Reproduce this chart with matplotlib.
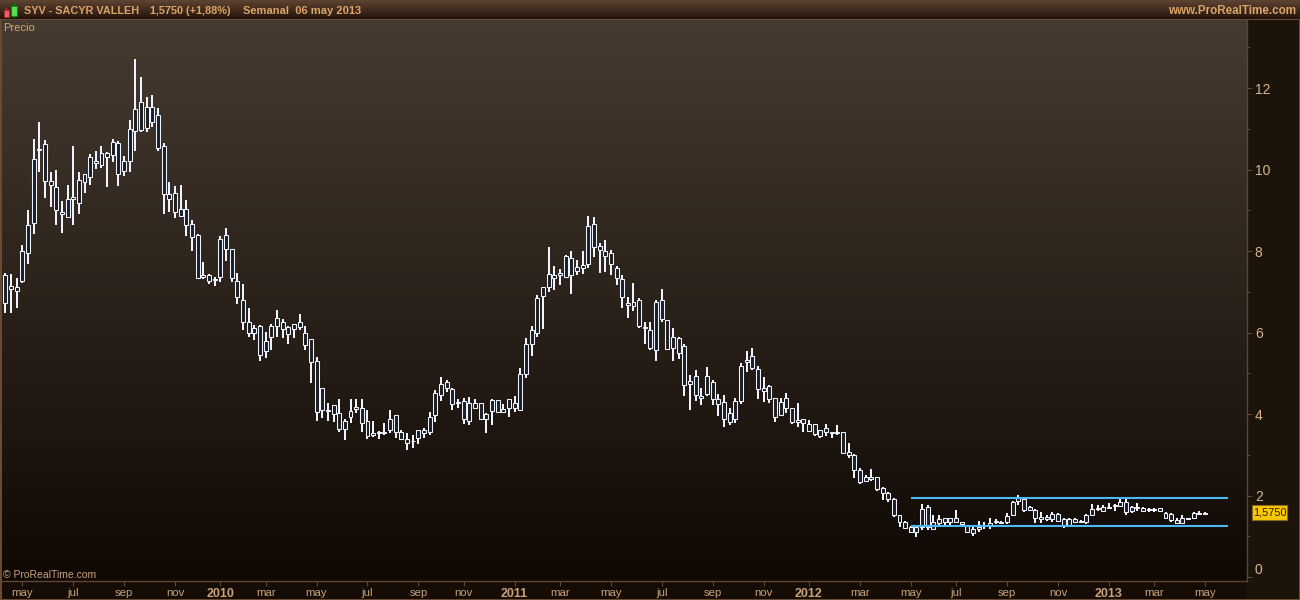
import numpy as np
import matplotlib
matplotlib.use('Agg')
import matplotlib.pyplot as plt
from matplotlib.patches import Rectangle

# weekly candles, SYV, one value per bar
high = [7.45,7.44,7.33,8.14,9.01,10.75,11.17,10.72,9.94,9.98,9.23,9.62,10.58,9.94,9.88,10.38,10.45,10.57,10.44,10.75,
        10.70,10.33,11.22,12.71,12.26,11.78,11.82,11.50,10.64,9.69,9.60,9.62,9.25,8.76,8.41,7.73,7.43,7.37,8.36,8.56,
        8.04,7.45,7.19,6.59,6.18,6.18,6.01,6.22,6.55,6.32,6.15,6.22,6.45,6.15,5.83,5.40,4.63,4.27,4.21,4.37,
        3.87,4.37,4.37,4.37,4.11,3.82,3.58,3.77,4.09,3.97,3.62,3.53,3.48,3.60,3.65,4.05,4.58,4.91,4.83,4.65,
        4.36,4.39,4.41,4.36,4.26,4.02,4.36,4.34,4.24,4.36,4.43,5.14,5.86,6.15,6.91,7.11,8.10,7.63,7.55,7.90,
        8.00,7.78,8.00,8.86,8.84,8.20,8.27,8.02,7.63,7.40,6.86,7.21,6.84,6.27,6.26,6.81,7.07,6.30,6.10,5.88,
        5.71,4.95,5.07,4.63,5.15,4.83,4.48,4.46,4.16,4.39,5.24,5.54,5.61,5.17,4.90,4.70,4.39,4.39,4.51,4.16,
        4.26,3.89,3.85,3.75,3.62,3.75,3.57,3.73,3.57,3.28,3.01,2.67,2.50,2.64,2.45,2.20,2.09,1.95,1.52,1.38,
        1.26,1.28,1.78,1.77,1.52,1.52,1.46,1.46,1.64,1.36,1.28,1.24,1.37,1.36,1.46,1.42,1.38,1.56,1.87,2.01,
        1.93,1.74,1.67,1.59,1.52,1.59,1.56,1.44,1.46,1.46,1.40,1.54,1.78,1.77,1.77,1.81,1.78,1.91,1.91,1.75,
        1.81,1.71,1.70,1.70,1.70,1.59,1.56,1.44,1.52,1.46,1.59,1.62,1.60]
body_top = [7.40,7.15,7.11,7.99,8.63,10.27,10.50,10.62,9.73,9.56,8.95,9.27,9.33,9.75,9.88,10.30,10.22,10.41,10.41,10.67,
            10.64,10.20,10.99,11.48,11.65,11.53,11.53,11.35,10.57,9.39,9.42,9.02,9.02,8.66,8.39,7.40,7.40,7.32,8.29,8.39,
            8.04,7.26,6.79,6.27,6.10,6.15,5.80,6.15,6.35,6.27,6.13,6.20,6.27,6.00,5.83,5.29,4.63,4.11,4.21,4.02,
            3.84,4.07,4.18,4.16,3.82,3.53,3.57,3.57,3.87,3.97,3.57,3.39,3.35,3.60,3.60,3.92,4.51,4.73,4.78,4.61,
            4.29,4.31,4.26,4.26,4.26,3.99,4.34,4.34,4.13,4.36,4.26,4.97,5.71,6.05,6.84,7.11,7.43,7.40,7.45,7.88,
            7.82,7.60,7.65,8.61,8.66,8.12,7.99,7.94,7.58,7.31,6.72,6.74,6.79,6.14,6.05,6.74,6.81,6.30,5.88,5.86,
            5.66,4.80,4.93,4.43,4.93,4.78,4.38,4.29,4.02,4.31,5.17,5.32,5.42,5.10,4.63,4.68,4.39,4.29,4.39,4.14,
            3.85,3.87,3.75,3.75,3.62,3.65,3.57,3.57,3.57,3.08,2.99,2.62,2.45,2.45,2.45,2.18,2.05,1.91,1.51,1.34,
            1.22,1.22,1.66,1.71,1.36,1.42,1.44,1.44,1.46,1.36,1.24,1.17,1.22,1.26,1.33,1.38,1.36,1.50,1.85,1.93,
            1.91,1.71,1.65,1.48,1.48,1.55,1.54,1.42,1.42,1.42,1.38,1.52,1.66,1.70,1.73,1.73,1.77,1.85,1.85,1.71,
            1.71,1.69,1.67,1.68,1.69,1.56,1.54,1.40,1.46,1.45,1.56,1.58,1.57]
body_bot = [6.72,7.08,7.03,7.27,7.94,8.68,10.47,9.71,9.61,9.00,8.92,8.83,9.27,9.17,9.70,9.81,10.17,10.12,10.30,10.35,
            9.88,9.96,10.20,10.94,10.98,11.01,11.16,10.54,9.39,9.27,8.97,8.87,8.63,8.34,7.35,7.36,7.27,7.28,7.37,8.04,
            7.33,6.86,6.27,6.00,6.00,5.44,5.54,5.88,6.17,6.08,5.97,6.08,6.13,5.70,5.27,4.04,4.11,4.07,3.99,3.64,
            3.64,3.92,4.13,3.77,3.47,3.49,3.53,3.54,3.62,3.55,3.39,3.30,3.33,3.40,3.53,3.55,3.97,4.46,4.65,4.24,
            4.26,3.87,3.82,4.16,3.89,3.89,4.07,4.04,4.04,4.14,4.16,4.11,4.97,5.71,6.00,6.90,7.11,7.35,7.42,7.37,
            7.42,7.52,7.58,7.69,8.09,8.02,7.87,7.67,7.33,6.86,6.68,6.64,6.17,6.10,5.63,5.56,6.32,5.60,5.61,5.49,
            4.70,4.73,4.47,4.39,4.48,4.36,4.24,3.87,3.80,3.89,4.31,5.27,5.14,4.61,4.56,4.36,3.92,3.98,4.16,3.81,
            3.81,3.77,3.59,3.50,3.47,3.55,3.54,3.54,3.05,3.00,2.62,2.34,2.36,2.40,2.17,2.05,1.91,1.51,1.34,1.21,
            1.11,1.10,1.22,1.22,1.19,1.33,1.36,1.36,1.36,1.29,1.10,1.07,1.19,1.24,1.24,1.34,1.33,1.34,1.52,1.87,
            1.64,1.65,1.44,1.43,1.42,1.42,1.38,1.28,1.28,1.36,1.36,1.34,1.52,1.67,1.63,1.69,1.74,1.75,1.60,1.62,
            1.69,1.63,1.64,1.64,1.61,1.46,1.40,1.33,1.33,1.43,1.44,1.55,1.55]
low = [6.47,6.49,6.61,7.22,7.69,8.43,9.95,9.31,9.09,8.65,8.45,8.83,8.65,8.92,9.43,9.63,10.02,10.05,9.56,10.19,
       9.60,9.83,9.95,10.46,10.93,10.93,11.04,10.46,8.92,8.97,8.82,8.84,8.38,8.01,7.32,7.32,7.20,7.13,7.25,7.76,
       7.25,6.71,6.05,5.90,5.82,5.31,5.37,5.57,5.90,5.87,5.72,5.87,6.06,5.57,4.77,3.84,3.91,3.84,3.81,3.57,
       3.37,3.79,4.03,3.57,3.39,3.44,3.39,3.49,3.54,3.42,3.37,3.12,3.17,3.27,3.41,3.49,3.81,4.33,4.55,4.11,
       4.16,3.76,3.74,4.13,3.89,3.54,3.74,4.02,4.04,3.93,4.06,4.09,4.89,5.43,5.90,6.09,7.00,7.04,7.17,7.37,
       6.95,7.40,7.44,7.59,7.86,7.47,7.49,7.40,7.17,6.61,6.36,6.54,6.12,5.73,5.58,5.31,6.27,5.58,5.31,5.36,
       4.45,4.11,4.33,4.23,4.43,4.23,3.96,3.67,3.74,3.79,4.24,5.02,5.09,4.38,4.30,4.28,3.81,3.94,4.03,3.76,
       3.67,3.57,3.57,3.47,3.42,3.46,3.42,3.48,3.05,2.93,2.44,2.29,2.34,2.36,2.12,1.89,1.85,1.48,1.22,1.18,
       1.08,0.99,1.15,1.15,1.15,1.24,1.28,1.24,1.34,1.25,1.07,1.01,1.10,1.19,1.19,1.30,1.31,1.31,1.51,1.77,
       1.60,1.63,1.33,1.33,1.38,1.36,1.36,1.21,1.24,1.33,1.36,1.31,1.51,1.62,1.61,1.67,1.63,1.71,1.52,1.58,
       1.63,1.61,1.60,1.60,1.60,1.42,1.36,1.31,1.29,1.42,1.42,1.51,1.53]

month_pos = [3,12,21,30,46,55,64,73,81,98,107,116,125,134,151,160,168,177,186,203,212]
month_lab = ['may','jul','sep','nov','mar','may','jul','sep','nov','mar','may','jul','sep','nov','mar','may','jul','sep','nov','mar','may']
year_pos = [38,90,142,195]
year_lab = ['2010','2011','2012','2013']
price_ticks = [0,2,4,6,8,10,12]
minor_ticks = [1,3,5,7,9,11,13]
channel_top = 1.94
channel_bot = 1.25
channel_start = 160
channel_end = 216

W, H = 1300, 600
TXT = '#dba468'
LINE = '#5f4630'
EDGE = '#6a4a30'
CANDLE = '#eef3ff'
plt.rcParams['font.family'] = ['Liberation Sans', 'DejaVu Sans']

fig = plt.figure(figsize=(W/100, H/100), dpi=100, facecolor='#1c130b')

def px_axes(x0, y0, x1, y1, **kw):
    return fig.add_axes([x0/W, 1-y1/H, (x1-x0)/W, (y1-y0)/H], **kw)

def px_rect(x0, y0, x1, y1, **kw):
    r = Rectangle((x0/W, 1-y1/H), (x1-x0)/W, (y1-y0)/H, transform=fig.transFigure, **kw)
    fig.add_artist(r)
    return r

def vgrad(ax, top, bot):
    c = np.linspace(matplotlib.colors.to_rgb(top), matplotlib.colors.to_rgb(bot), 256)[:, None, :]
    ax.imshow(c, aspect='auto', extent=(0, 1, 0, 1), transform=ax.transAxes, zorder=0)

# bottom strip under the time axis, has to stay behind the tick labels
px_rect(0, 581, 1247, 600, fc='#150c05', ec='none', zorder=-1)

# header strip
head = px_axes(0, 0, W, 19)
vgrad(head, '#5e4433', '#24130a')
head.set_axis_off()

# main chart
ax = px_axes(2, 20, 1247, 581, facecolor='#1c130b')
x = np.arange(len(high))
vgrad(ax, '#463b31', '#0f0803')
ax.set_xlim(-0.58, 219.4)
ax.set_ylim(-0.098, 13.67)

top = np.array(body_top)
bot = np.array(body_bot)
ax.vlines(x, low, high, color=CANDLE, lw=1.45, zorder=2)
ax.bar(x, top-bot, bottom=bot, width=0.7, facecolor='#1b2026', edgecolor=CANDLE, lw=0.75, zorder=3)
ax.hlines([channel_top, channel_bot], channel_start, channel_end, color='#4db9f2', lw=1.5, zorder=4)

for s in ['top', 'left']:
    ax.spines[s].set_visible(False)
ax.spines['right'].set_color(LINE)
ax.spines['bottom'].set_color(LINE)
ax.spines['right'].set_linewidth(1)
ax.spines['bottom'].set_linewidth(1)

ax.yaxis.tick_right()
ax.set_yticks(price_ticks)
ax.set_yticks(minor_ticks, minor=True)
ax.tick_params(axis='y', which='major', length=3.6, width=0.8, color=LINE, labelcolor='#d9b48c', labelsize=10, pad=2)
ax.tick_params(axis='y', which='minor', length=2, width=0.8, color=LINE)
ax.get_yticklabels()[0].set_verticalalignment('bottom')

ax.set_xticks(month_pos + year_pos)
ax.set_xticklabels(month_lab + year_lab)
ax.tick_params(axis='x', length=3.6, width=0.8, color=LINE, labelcolor='#c9a27a', labelsize=8.2, pad=1.5)
for lab, t in zip(ax.get_xticklabels(), month_lab + year_lab):
    if t.startswith('20'):
        lab.set_fontsize(9)
        lab.set_fontweight('bold')

# header and corner texts
fig.text(3/W, 1-28/H, 'Precio', color=TXT, fontsize=8, va='center')
fig.text(24/W, 1-11/H, 'SYV - SACYR VALLEH', color=TXT, fontsize=7.8, fontweight='bold', va='center')
fig.text(150/W, 1-11/H, '1,5750 (+1,88%)', color=TXT, fontsize=7.8, fontweight='bold', va='center')
fig.text(243/W, 1-11/H, 'Semanal  06 may 2013', color=TXT, fontsize=8, fontweight='bold', va='center')
fig.text(1296/W, 1-11/H, 'www.ProRealTime.com', color=TXT, fontsize=8.4, fontweight='bold', va='center', ha='right')
fig.text(3/W, 1-575/H, '\u00a9 ProRealTime.com', color='#c9a27a', fontsize=7.5, va='center')

# small candle logo in the header
px_rect(6, 8, 7, 18, fc='#c03030', ec='none')
px_rect(3.5, 10, 9, 16.5, fc='#f06060', ec='#a03030', lw=0.6)
px_rect(14, 3, 15, 18, fc='#109010', ec='none')
px_rect(11, 6, 17, 15.5, fc='#50e050', ec='#108010', lw=0.6)

# frame lines
px_rect(0, 19, W, 20, fc=EDGE, ec='none')
px_rect(0, 20, 1.5, 600, fc=EDGE, ec='none')
px_rect(1298.5, 20, W, 600, fc=EDGE, ec='none')
px_rect(0, 599, W, 600, fc=EDGE, ec='none')

# last price tag
px_rect(1252, 505, 1287, 520, fc='#fac800', ec='#8a6a20', lw=0.8)
fig.text(1269.5/W, 1-512.5/H, '1,5750', color='#2a1c00', fontsize=7.9, ha='center', va='center')

fig.savefig('out.png', dpi=100, facecolor=fig.get_facecolor())
